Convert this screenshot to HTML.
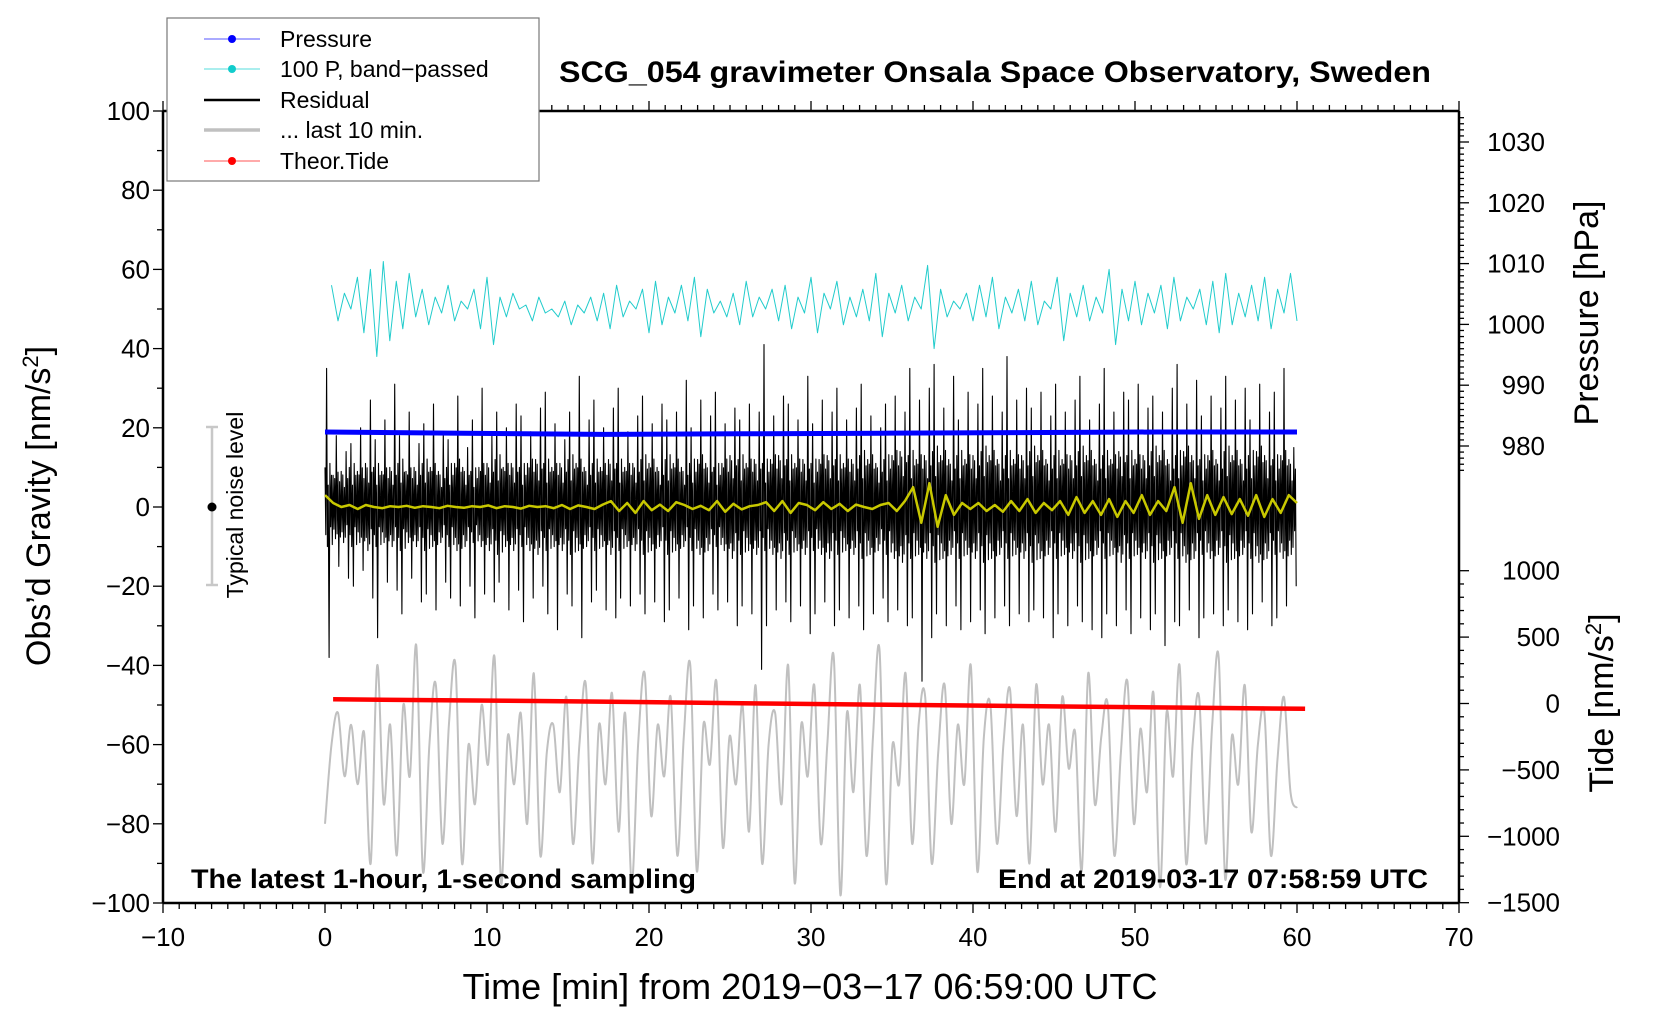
<!DOCTYPE html>
<html><head><meta charset="utf-8"><style>
html,body{margin:0;padding:0;background:#fff;}
svg{display:block;font-family:"Liberation Sans",Arial,sans-serif;}
</style></head><body>
<svg id="chart" width="1660" height="1020" viewBox="0 0 1660 1020">
<g id="marks"></g>
<g id="axes"></g>
<text x="995" y="82" font-size="30" font-weight="bold" text-anchor="middle" textLength="872" lengthAdjust="spacingAndGlyphs">SCG_054 gravimeter Onsala Space Observatory, Sweden</text>
<text x="191" y="888" font-size="27" font-weight="bold" textLength="505" lengthAdjust="spacingAndGlyphs">The latest 1-hour, 1-second sampling</text>
<text x="998" y="888" font-size="27" font-weight="bold" textLength="430" lengthAdjust="spacingAndGlyphs">End at 2019-03-17 07:58:59 UTC</text>
<text x="810" y="999" font-size="36" text-anchor="middle">Time [min] from 2019−03−17 06:59:00 UTC</text>
<text transform="translate(50,506) rotate(-90)" font-size="34" text-anchor="middle">Obs’d Gravity [nm/s<tspan font-size="22" dy="-12">2</tspan><tspan dy="12">]</tspan></text>
<text transform="translate(1598,313) rotate(-90)" font-size="34" text-anchor="middle">Pressure [hPa]</text>
<text transform="translate(1613,703) rotate(-90)" font-size="34" text-anchor="middle">Tide [nm/s<tspan font-size="22" dy="-12">2</tspan><tspan dy="12">]</tspan></text>
<g>
<line x1="212" y1="427" x2="212" y2="585" stroke="#c8c8c8" stroke-width="2.5"/>
<line x1="206" y1="427" x2="218" y2="427" stroke="#c8c8c8" stroke-width="2.5"/>
<line x1="206" y1="585" x2="218" y2="585" stroke="#c8c8c8" stroke-width="2.5"/>
<circle cx="212" cy="507" r="4.5" fill="#000"/>
<text transform="translate(243,505) rotate(-90)" font-size="23" text-anchor="middle">Typical noise level</text>
</g>
<g>
<rect x="167" y="18" width="372" height="163" fill="#fff" stroke="#777" stroke-width="1.2"/>
<g><line x1="204" y1="39" x2="260" y2="39" stroke="#55f" stroke-width="1"/><circle cx="232" cy="39" r="4" fill="#00f"/><text x="280" y="47" font-size="23">Pressure</text></g>
<g><line x1="204" y1="69" x2="260" y2="69" stroke="#5dd" stroke-width="1"/><circle cx="232" cy="69" r="4" fill="#1cc"/><text x="280" y="77" font-size="23">100 P, band−passed</text></g>
<g><line x1="204" y1="100" x2="260" y2="100" stroke="#000" stroke-width="2.5"/><text x="280" y="108" font-size="23">Residual</text></g>
<g><line x1="204" y1="130" x2="260" y2="130" stroke="#c0c0c0" stroke-width="3.5"/><text x="280" y="138" font-size="23">... last 10 min.</text></g>
<g><line x1="204" y1="161" x2="260" y2="161" stroke="#f55" stroke-width="1"/><circle cx="232" cy="161" r="4" fill="#f00"/><text x="280" y="169" font-size="23">Theor.Tide</text></g>
</g>
</svg>
<script>
const xTicks=[-10,0,10,20,30,40,50,60,70];
const yTicks=[-100,-80,-60,-40,-20,0,20,40,60,80,100];
const pTicks=[980,990,1000,1010,1020,1030];
const tTicks=[-1500,-1000,-500,0,500,1000];
const cyan=[56,47,54,50,58,44,60,38,62,42,57,45,59,48,55,46,53,49,56,47,52,50,55,45,58,41,53,48,54,50,51,47,53,49,50,48,52,46,51,49,53,47,54,45,56,48,52,50,55,44,57,46,53,49,56,47,58,43,55,49,52,48,54,46,57,48,53,50,55,47,56,45,53,49,58,44,54,50,57,46,53,48,55,47,59,43,54,49,56,47,53,50,61,40,55,48,52,50,54,47,56,48,58,45,53,49,55,47,57,46,52,50,58,42,54,48,56,47,53,49,60,41,55,47,57,46,54,49,56,45,58,47,53,50,55,46,57,44,59,46,54,48,56,47,58,45,55,49,59,47];
const blackMax=[35,18,14,16,20,27,17,22,31,18,24,16,21,26,19,17,28,15,22,30,18,24,20,26,23,19,25,29,21,17,24,33,22,27,20,25,30,19,23,28,21,26,22,24,32,20,27,23,29,21,25,22,26,24,41,23,28,26,22,33,21,27,24,30,22,25,31,23,20,26,28,24,35,27,30,36,25,33,22,29,26,35,28,24,38,27,30,25,29,23,31,24,27,33,22,26,35,24,29,27,31,25,28,24,30,36,26,32,23,28,25,33,27,30,22,31,24,29,35,15];
const blackMin=[-38,-15,-18,-20,-16,-23,-33,-19,-21,-27,-18,-24,-22,-26,-19,-23,-25,-20,-28,-22,-24,-19,-26,-21,-29,-23,-20,-27,-31,-22,-25,-33,-24,-21,-26,-28,-23,-25,-22,-27,-24,-29,-26,-23,-31,-25,-28,-22,-26,-24,-30,-25,-27,-41,-30,-26,-24,-29,-25,-32,-27,-24,-30,-26,-28,-25,-31,-27,-23,-29,-26,-30,-28,-44,-33,-27,-30,-25,-31,-29,-26,-32,-28,-25,-30,-27,-29,-26,-28,-33,-27,-30,-25,-29,-31,-33,-27,-30,-26,-32,-28,-31,-27,-35,-29,-30,-26,-33,-28,-27,-30,-26,-29,-31,-27,-24,-30,-28,-25,-20];
const blackCore=[10,8,9,10,9,11,10,9,10,11,9,10,11,10,9,10,11,10,9,10,11,12,10,11,10,11,12,11,10,11,12,11,10,11,10,12,11,10,11,12,11,10,12,11,10,11,12,11,10,11,13,12,11,12,11,12,13,12,11,12,11,12,13,12,11,12,13,12,11,12,13,14,13,12,13,14,13,12,13,12,13,14,13,12,13,12,13,14,13,12,13,12,13,14,13,12,13,12,14,13,12,13,14,13,12,13,14,13,12,13,12,14,13,12,13,14,13,12,13,12];
const yellow=[3,1,0,0.5,-0.5,0.5,0,-0.3,0.2,0,0.3,-0.2,0.2,0,-0.3,0.3,0,-0.2,0.2,0,0.4,-0.3,0.2,0,-0.4,0.3,0,0.2,-0.3,0.5,-0.5,0.4,0,-0.5,0.6,1.5,-1,1,-1.5,1.5,-0.8,0.6,-1,1.2,0.5,-0.5,0.3,-0.8,1.5,-1.2,0.8,-0.6,0.2,0.5,1.2,-1,1.5,-1.5,1,0.5,-0.8,1.2,-0.5,0.8,-1,0.6,0,-0.5,0.5,1,-1,1.5,5,-4,6,-5,3,-2,1,-0.5,1,-1,0.5,-1.2,1.5,-1,2,-1.5,1,-0.8,1.5,-2,2.5,-1.5,1.5,-2,2,-2.5,1.5,-1.5,3,-2,1.5,-1,5,-4,6,-3,3,-2,2.5,-1.8,2,-2.2,3,-2.5,2,-1.5,3,1];
const gray=[-80,-60,-52,-68,-55,-70,-57,-90,-40,-75,-55,-88,-50,-68,-35,-92,-60,-45,-85,-55,-40,-90,-60,-75,-50,-65,-38,-95,-58,-70,-52,-80,-42,-88,-62,-55,-72,-48,-85,-60,-45,-90,-55,-70,-47,-82,-52,-95,-60,-42,-78,-55,-68,-48,-88,-58,-40,-92,-55,-65,-44,-86,-58,-70,-50,-82,-45,-90,-60,-52,-75,-40,-95,-55,-68,-45,-85,-60,-38,-98,-52,-72,-45,-88,-58,-36,-95,-60,-70,-42,-85,-55,-48,-90,-62,-45,-80,-55,-70,-40,-92,-58,-50,-85,-60,-46,-78,-55,-90,-45,-70,-55,-82,-48,-66,-57,-92,-42,-75,-58,-50,-88,-62,-44,-80,-56,-72,-47,-96,-52,-68,-40,-90,-60,-48,-85,-55,-38,-94,-58,-70,-45,-82,-60,-52,-88,-64,-48,-72,-76];
const pressure=[982.3,982.1,981.9,982.0,982.1,982.2,982.3,982.3];
const tide=[32,25,18,10,0,-8,-16,-24,-32,-40];

const NS='http://www.w3.org/2000/svg';
const X0=163,X1=1459,Y0=111,Y1=903;
const sx=v=>X0+(v+10)*(X1-X0)/80;
const sy=v=>Y1-(v+100)*(Y1-Y0)/200;
const sp=v=>446-(v-980)*6.08;
const st=v=>703.5-v*0.1328;
const marks=document.getElementById('marks'),axes=document.getElementById('axes');
function el(tag,attrs,parent){const e=document.createElementNS(NS,tag);for(const k in attrs)e.setAttribute(k,attrs[k]);parent.appendChild(e);return e;}
function series(arr,t0,t1,fy){const n=arr.length;return arr.map((v,i)=>[sx(t0+(t1-t0)*i/(n-1)),fy(v)]);}
function smoothPath(pts){let d='M'+pts[0][0].toFixed(1)+','+pts[0][1].toFixed(1);
for(let i=0;i<pts.length-1;i++){const p0=pts[i-1]||pts[i],p1=pts[i],p2=pts[i+1],p3=pts[i+2]||p2;
d+=' C'+(p1[0]+(p2[0]-p0[0])/6).toFixed(1)+','+(p1[1]+(p2[1]-p0[1])/6).toFixed(1)+' '+(p2[0]-(p3[0]-p1[0])/6).toFixed(1)+','+(p2[1]-(p3[1]-p1[1])/6).toFixed(1)+' '+p2[0].toFixed(1)+','+p2[1].toFixed(1);}
return d;}
function poly(pts,stroke,w,name){const p=el('polyline',{points:pts.map(q=>q[0].toFixed(1)+','+q[1].toFixed(1)).join(' '),fill:'none',stroke:stroke,'stroke-width':w,'stroke-linejoin':'round'},marks);


return p;}

const gp=el('path',{d:smoothPath(series(gray,0,60,sy)),fill:'none',stroke:'#c0c0c0','stroke-width':2},marks);


poly(series(cyan,0.4,60,sy),'#22cccc',1,'band-passed-pressure-line');
// residual: per-bin max/core/min, dense zigzag
(function(){const n=blackMax.length,pts=[];const d=60/n;
const pat=[1,-0.7,0.9,-1,0.55,-0.85,1.1,-0.5,0.8,-0.95];
for(let i=0;i<n;i++){const t=i*d;const sh=(i%3)+1;
for(let k=0;k<pat.length;k++){const tt=t+d*k/pat.length;let v=blackCore[i]*pat[k];
if(k===sh*2)v=blackMax[i];if(k===sh*2+3)v=blackMin[i];pts.push([sx(tt),sy(v)]);}}
poly(pts,'#000',1.1,'residual-line');})();
poly(series(pressure,0,60,sp),'#0000ff',5,'pressure-line');
poly(series(yellow,0,60,sy),'#c8c800',2.5,'residual-smoothed-line');
poly(series(tide,0.5,60.5,st),'#ff0000',4.5,'tide-line');

function ln(x1,y1,x2,y2,w){el('line',{x1:x1,y1:y1,x2:x2,y2:y2,stroke:'#000','stroke-width':w},axes);}
ln(X0,Y0,X1,Y0,2.5);ln(X0,Y1,X1,Y1,2.5);ln(X0,Y0,X0,Y1,2.5);ln(X1,Y0,X1,Y1,2.5);
function txt(x,y,s,anchor,name){const t=el('text',{x:x,y:y,'font-size':26,'text-anchor':anchor},axes);t.textContent=s;

}
const lbl=v=>String(v).replace('-','−');
for(let m=-10;m<=70;m++){const x=sx(m);const maj=m%10===0;ln(x,Y1,x,Y1+(maj?10:6),1.3);ln(x,Y0,x,Y0-(maj?10:6),1.3);}
xTicks.forEach(v=>txt(sx(v),Y1+43,lbl(v),'middle','x-tick-label'));
for(let v=-100;v<=100;v+=10){ln(X0,sy(v),X0-(v%20===0?10:6),sy(v),1.3);}
yTicks.forEach(v=>txt(X0-13,sy(v)+9,lbl(v),'end','y-tick-label'));
for(let v=976;v<=1034;v++){ln(X1,sp(v),X1+(v%10===0?10:5),sp(v),1.3);}
pTicks.forEach(v=>txt(1545,sp(v)+9,lbl(v),'end','pressure-tick-label'));
for(let v=-1500;v<=1000;v+=100){ln(X1,st(v),X1+(v%500===0?10:5),st(v),1.3);}
tTicks.forEach(v=>txt(1560,st(v)+9,lbl(v),'end','tide-tick-label'));
</script>
</body></html>
